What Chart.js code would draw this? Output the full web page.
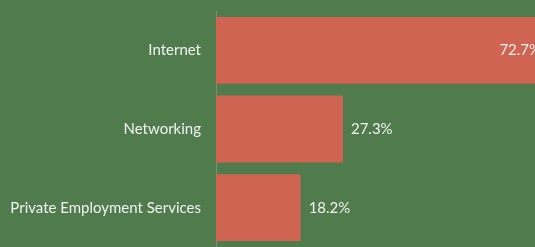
<!DOCTYPE html>
<html>
<head>
<meta charset="utf-8">
<script src="https://cdn.jsdelivr.net/npm/chart.js@4.4.0/dist/chart.umd.min.js"></script>
<style>
    html, body { margin: 0; padding: 0; background: #507C4D; }
    #contenedor { width: 535px; height: 247px; }
</style>
</head>
<body>
<div id="contenedor"><canvas id="graficaCanales"></canvas></div>
<script>
const categorias = ['Internet', 'Networking', 'Private Employment Services'];
const porcentajes = [72.7, 27.3, 18.2];
const ejeMaximo = 68.6;

// etiquetas de valor al final de cada barra
const etiquetasValor = {
    id: 'etiquetasValor',
    afterDatasetsDraw(grafica) {
        const ctx = grafica.ctx;
        const area = grafica.chartArea;
        const meta = grafica.getDatasetMeta(0);
        ctx.save();
        ctx.font = '15px Lato, "Noto Sans", sans-serif';
        ctx.fillStyle = '#F2F2F2';
        ctx.textBaseline = 'middle';
        meta.data.forEach(function(barra, i) {
            const texto = porcentajes[i].toFixed(1) + '%';
            if (barra.x > area.right) {
                ctx.textAlign = 'right';
                ctx.fillText(texto, barra.x - 13, barra.y);
            } else {
                ctx.textAlign = 'left';
                ctx.fillText(texto, barra.x + 8, barra.y);
            }
        });
        ctx.restore();
    }
};

const contexto = document.getElementById('graficaCanales');
new Chart(contexto, {
    type: 'bar',
    data: {
        labels: categorias,
        datasets: [{
            data: porcentajes,
            backgroundColor: '#CE6451',
            borderWidth: 0,
            barPercentage: 0.85,
            categoryPercentage: 1
        }]
    },
    options: {
        indexAxis: 'y',
        responsive: true,
        maintainAspectRatio: false,
        animation: false,
        layout: {
            padding: { top: 11, bottom: 0, left: 0, right: 0 }
        },
        plugins: {
            legend: { display: false },
            tooltip: { enabled: false }
        },
        scales: {
            x: {
                display: false,
                min: 0,
                max: ejeMaximo
            },
            y: {
                afterFit: function(escala) {
                    escala.width = 216;
                    escala.paddingTop = 0;
                    escala.paddingBottom = 0;
                },
                grid: { display: false },
                border: { display: true, color: '#7D8C7B', width: 1 },
                ticks: {
                    color: '#F2F2F2',
                    padding: 7,
                    font: { family: 'Lato, "Noto Sans", sans-serif', size: 15 }
                }
            }
        }
    },
    plugins: [etiquetasValor]
});
</script>
</body>
</html>
